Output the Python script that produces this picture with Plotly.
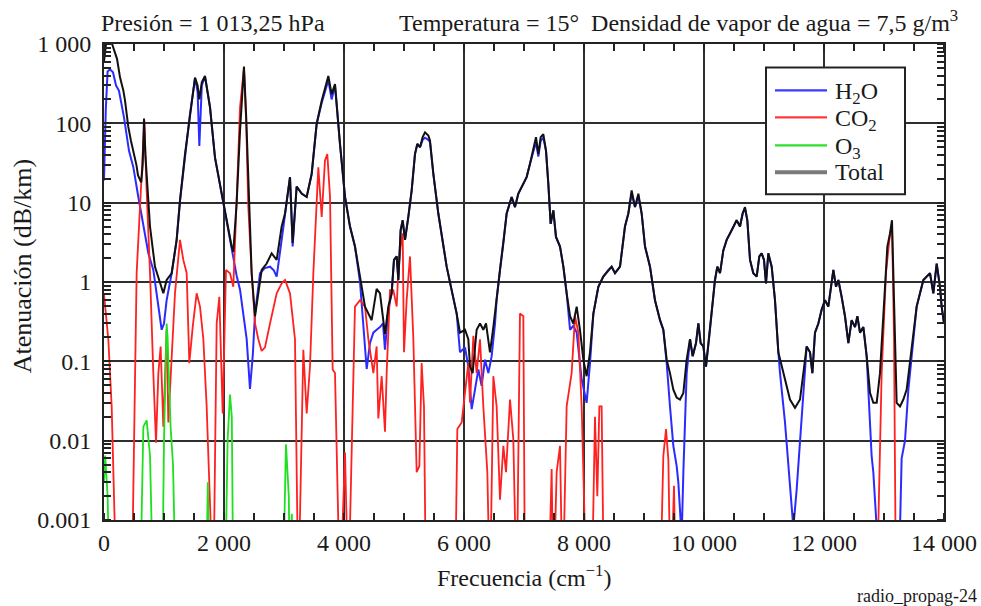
import plotly.graph_objects as go

# ---------------- data ----------------
total_freq = [0, 40, 100, 160, 217, 267, 322, 350, 405, 450, 489, 540, 567, 620, 645, 667, 690, 711, 767, 850,
              933, 989, 1044, 1128, 1211, 1267, 1350, 1433, 1517, 1560, 1589, 1630, 1683, 1767, 1850, 1933, 2044,
              2128, 2155, 2211, 2267, 2300, 2333, 2370, 2405, 2461, 2517, 2572, 2628, 2711, 2794, 2878, 2961,
              3017, 3100, 3144, 3211, 3294, 3378, 3461, 3544, 3628, 3700, 3739, 3794, 3850, 3933, 4017, 4100,
              4183, 4267, 4350, 4461, 4544, 4600, 4683, 4739, 4794, 4833, 4878, 4906, 4944, 4978, 5017, 5072,
              5128, 5183, 5222, 5267, 5311, 5350, 5406, 5433, 5489, 5572, 5628, 5711, 5794, 5878, 5933, 6017,
              6072, 6100, 6144, 6211, 6267, 6322, 6367, 6406, 6433, 6489, 6544, 6600, 6656, 6711, 6794, 6850,
              6906, 6989, 7044, 7100, 7156, 7200, 7239, 7278, 7322, 7367, 7406, 7444, 7489, 7533, 7600, 7656,
              7711, 7767, 7822, 7878, 7933, 7989, 8044, 8100, 8156, 8239, 8322, 8406, 8461, 8517, 8600, 8683,
              8739, 8794, 8850, 8906, 8961, 9017, 9100, 9183, 9267, 9322, 9378, 9433, 9489, 9544, 9600, 9656,
              9711, 9767, 9811, 9867, 9906, 9944, 9989, 10033, 10089, 10144, 10183, 10222, 10267, 10322, 10378,
              10461, 10544, 10600, 10644, 10683, 10722, 10767, 10822, 10878, 10922, 10961, 11000, 11033, 11072,
              11128, 11183, 11239, 11294, 11350, 11433, 11517, 11600, 11656, 11711, 11767, 11806, 11850, 11906,
              11961, 12017, 12072, 12111, 12156, 12200, 12239, 12294, 12350, 12406, 12461, 12517, 12556, 12600,
              12656, 12711, 12767, 12822, 12878, 12933, 12989, 13056, 13100, 13133, 13167, 13211, 13267, 13322,
              13378, 13433, 13489, 13544, 13600, 13656, 13711, 13767, 13822, 13878, 13933, 13961, 14000]
total_val = [600, 1100, 1200, 900, 650, 380, 260, 195, 90, 60, 46, 30, 22, 18, 30, 115, 40, 23, 5.0, 1.55,
             0.96, 0.72, 1.06, 1.29, 3.4, 10.7, 41, 131, 378, 300, 200, 330, 396, 159, 37, 17, 6.0,
             2.8, 2.4, 10, 80, 250, 520, 120, 23, 1.29, 0.37, 0.72, 1.42, 1.71, 2.3, 1.9, 5.0,
             7.3, 21, 3.1, 16, 13, 11.8, 23, 98, 193, 312, 396, 233, 312, 55, 11.8, 5.0,
             2.8, 1.17, 0.49, 0.33, 0.82, 0.72, 0.22, 0.49, 0.72, 1.9, 2.1, 1.06, 4.5, 6.0, 3.4, 6.6,
             14.3, 41, 55, 50, 67, 77, 70, 61, 23, 7.3, 3.7, 1.56, 0.79, 0.40, 0.23, 0.25,
             0.19, 0.086, 0.071, 0.25, 0.30, 0.25, 0.30, 0.19, 0.13, 0.27, 0.65, 1.42, 3.1, 7.3, 11.8, 8.8,
             13, 17, 21, 31, 50, 67, 41, 67, 73, 45, 17, 5.4, 8.0, 3.7, 2.8, 1.56,
             0.72, 0.37, 0.30, 0.49, 0.25, 0.105, 0.065, 0.13, 0.40, 0.87, 1.17, 1.42, 1.56, 1.29, 1.56, 5.0,
             7.3, 14.3, 8.8, 13, 7.3, 2.8, 1.56, 0.59, 0.33, 0.25, 0.105, 0.071, 0.044, 0.035, 0.033, 0.040,
             0.105, 0.19, 0.116, 0.17, 0.30, 0.17, 0.154, 0.086, 0.21, 0.59, 1.06, 1.56, 1.29, 2.5, 3.4,
             4.5, 6.0, 5.0, 7.3, 8.8, 6.0, 1.9, 1.29, 1.17, 2.1, 2.3, 1.9, 0.96, 2.3,
             1.56, 0.59, 0.13, 0.086, 0.059, 0.033, 0.026, 0.033, 0.071, 0.154, 0.13, 0.071, 0.23, 0.30,
             0.45, 0.59, 0.49, 0.87, 1.42, 0.87, 1.06, 0.65, 0.37, 0.17, 0.33, 0.27, 0.37, 0.23,
             0.27, 0.116, 0.040, 0.030, 0.030, 0.071, 0.40, 2.8, 4.1, 6.0, 0.59, 0.030, 0.027, 0.033,
             0.044, 0.095, 0.23, 0.49, 0.72, 1.06, 1.17, 1.29, 0.72, 1.71, 0.87, 0.49, 0.30]

h2o_freq = [0, 30, 60, 100, 150, 200, 250, 333, 417, 489, 572, 656, 739, 822, 906, 961, 1000, 1044, 1128, 1211,
            1267, 1350, 1433, 1517, 1560, 1589, 1630, 1683, 1767, 1850, 1933, 2044, 2128, 2155, 2211, 2267,
            2320, 2378, 2433, 2480, 2517, 2560, 2600, 2680, 2767, 2830, 2878, 2961, 3017, 3100, 3144, 3211,
            3294, 3378, 3461, 3544, 3628, 3700, 3739, 3794, 3850, 3933, 4017, 4100, 4183, 4267, 4320, 4378,
            4433, 4489, 4544, 4600, 4650, 4683, 4739, 4794, 4833, 4878, 4906, 4944, 4978, 5017, 5072, 5128,
            5183, 5222, 5267, 5311, 5350, 5406, 5433, 5489, 5572, 5628, 5711, 5794, 5878, 5933, 6017, 6072,
            6128, 6183, 6239, 6294, 6350, 6406, 6461, 6517, 6544, 6600, 6656, 6711, 6794, 6850, 6906, 6989,
            7044, 7100, 7156, 7200, 7239, 7278, 7322, 7367, 7406, 7444, 7489, 7533, 7600, 7656, 7711, 7767,
            7822, 7878, 7961, 8044, 8100, 8156, 8239, 8322, 8406, 8461, 8517, 8600, 8683, 8739, 8794, 8850,
            8906, 8961, 9017, 9100, 9183, 9267, 9322, 9378, 9433, 9489, 9544, 9572, 9628, 9656, 9711, 9767,
            9811, 9867, 9906, 9944, 9989, 10033, 10089, 10144, 10183, 10222, 10267, 10322, 10378, 10461,
            10544, 10600, 10644, 10683, 10722, 10767, 10822, 10878, 10922, 10961, 11000, 11033, 11072, 11128,
            11183, 11239, 11267, 11350, 11433, 11489, 11544, 11600, 11656, 11711, 11767, 11806, 11850, 11906,
            11961, 12017, 12072, 12111, 12156, 12200, 12239, 12294, 12350, 12406, 12461, 12517, 12556, 12600,
            12656, 12711, 12767, 12794, 12822, 12878, 13050, 13267, 13294, 13350, 13406, 13461, 13489, 13544,
            13600, 13656, 13711, 13767, 13822, 13878, 13933, 13961, 14000]
h2o_val = [19, 150, 450, 480, 440, 300, 257, 119, 45, 28, 11.8, 5.0, 2.3, 1.42, 0.49, 0.25, 0.3, 0.59, 1.29, 3.4,
           10.7, 41, 131, 370, 250, 52, 300, 390, 159, 37, 17, 6.0, 2.8, 2.2, 1.2, 0.8,
           0.4, 0.19, 0.045, 0.12, 0.40, 0.8, 1.29, 1.5, 1.56, 1.4, 1.17, 3.4, 7.3, 21, 2.8, 16,
           13, 11.8, 23, 98, 180, 280, 350, 200, 300, 55, 11.8, 5.0, 2.8, 1.0, 0.3, 0.08,
           0.17, 0.23, 0.25, 0.27, 0.3, 0.14, 0.45, 0.72, 1.9, 2.1, 1.06, 4.5, 6.0, 3.4, 6.6, 14.3,
           41, 55, 50, 62, 66, 62, 58, 23, 7.3, 3.7, 1.56, 0.79, 0.40, 0.13, 0.15, 0.086,
           0.025, 0.044, 0.079, 0.049, 0.105, 0.071, 0.116, 0.30, 0.6, 1.42, 3.1, 7.3, 11.8, 8.8, 13, 17,
           21, 31, 46, 58, 38, 60, 66, 45, 17, 5.4, 8.0, 3.7, 2.8, 1.56, 0.72, 0.25,
           0.28, 0.23, 0.059, 0.030, 0.095, 0.40, 0.87, 1.17, 1.42, 1.56, 1.29, 1.56, 5.0, 7.3, 13, 8.8,
           12, 7.3, 2.8, 1.56, 0.59, 0.33, 0.25, 0.095, 0.027, 0.0086, 0.0048, 0.003, 0.0006, 0.004, 0.071, 0.19,
           0.116, 0.17, 0.30, 0.17, 0.154, 0.086, 0.21, 0.59, 1.06, 1.56, 1.29, 2.5, 3.4, 4.5,
           6.0, 5.0, 7.3, 8.5, 6.0, 1.9, 1.29, 1.17, 2.1, 2.3, 1.9, 0.96, 2.3, 1.56,
           0.59, 0.13, 0.071, 0.017, 0.003, 0.0008, 0.0024, 0.01, 0.044, 0.154, 0.13, 0.071, 0.23, 0.30,
           0.45, 0.59, 0.49, 0.87, 1.42, 0.87, 1.06, 0.65, 0.37, 0.17, 0.33, 0.27, 0.37, 0.23,
           0.27, 0.116, 0.017, 0.0064, 0.004, 0.0008, 0.0003, 0.0008, 0.006, 0.010, 0.044, 0.116, 0.23, 0.49,
           0.72, 1.06, 1.17, 1.29, 0.72, 1.71, 0.87, 0.49, 0.30]

co2_freq = [0, 72, 128, 211, 461, 544, 628, 672, 711, 767, 822, 867, 906, 944, 989, 1044, 1072, 1128, 1183,
            1267, 1322, 1378, 1422, 1478, 1544, 1600, 1656, 1711, 1767, 1822, 1878, 1922, 1978, 2033, 2100,
            2155, 2211, 2267, 2333, 2370, 2405, 2461, 2517, 2572, 2628, 2683, 2767, 2822, 2878, 2961, 3017,
            3100, 3183, 3239, 3322, 3378, 3433, 3489, 3572, 3628, 3683, 3722, 3767, 3811, 3850, 3933, 4017,
            4072, 4183, 4267, 4350, 4406, 4489, 4544, 4572, 4628, 4683, 4711, 4767, 4822, 4878, 4906, 4944,
            4978, 5000, 5044, 5100, 5156, 5211, 5256, 5294, 5333, 5367, 5850, 5889, 5961, 6017, 6072, 6100,
            6156, 6211, 6267, 6322, 6389, 6433, 6489, 6544, 6600, 6656, 6700, 6767, 6822, 6878, 6933, 6989,
            7017, 7406, 7461, 7489, 7544, 7600, 7644, 7711, 7794, 7850, 7906, 7961, 8044, 8128, 8183, 8222,
            8256, 8294, 8333, 9267, 9322, 9367, 9406, 9444, 9500, 9533, 12878, 12961, 13033, 13089, 13133,
            13167, 13200, 14000]
co2_val = [0.7, 0.19, 0.027, 1e-4, 1e-4, 1.29, 23, 108, 14, 1.29, 0.071, 0.0094, 0.071, 0.154, 0.015, 0.25,
           0.017, 0.116, 0.72, 3.4, 1.9, 1.29, 0.095, 0.27, 0.72, 0.49, 0.19, 0.027, 0.0024, 1e-4, 0.30, 0.65,
           0.022, 1.42, 1.29, 0.87, 10.7, 159, 500, 100, 8.8, 1.29, 0.30, 0.19, 0.135, 0.15, 0.30, 0.45, 0.72,
           0.96, 1.06, 0.72, 0.19, 1e-4, 0.14, 0.022, 0.086, 1.29, 28, 6.6, 34, 41, 11.8, 0.079, 0.071, 1e-4,
           0.0071, 1e-4, 0.49, 0.59, 0.49, 0.19, 0.071, 0.154, 0.019, 0.065, 0.013, 0.071, 0.79, 0.79, 0.49,
           1.42, 2.8, 4.1, 0.13, 0.59, 2.1, 0.19, 0.004, 0.0048, 0.095, 0.027, 1e-4, 1e-4, 0.014, 0.017, 0.044,
           0.095, 0.030, 0.21, 0.071, 0.19, 0.027, 0.004, 1e-4, 0.065, 0.027, 0.0018, 0.0086, 0.004, 0.033,
           0.0104, 1e-4, 0.40, 0.37, 1e-4, 1e-4, 0.0044, 1e-4, 0.004, 0.0086, 1e-4, 0.027, 0.071, 0.37, 0.23,
           0.027, 1e-4, 1e-4, 0.020, 0.002, 0.027, 0.027, 1e-4, 1e-4, 0.0064, 0.014, 0.0058, 1e-4, 0.0027,
           1e-4, 1e-4, 0.071, 1.29, 3.4, 5.5, 0.19, 1e-4, 1e-4]

o3_freq = [0, 20, 60, 100, 600, 656, 711, 767, 822, 970, 1000, 1030, 1044, 1060, 1090, 1110, 1150, 1200,
           1700, 1730, 1760, 2017, 2060, 2100, 2130, 2156, 2980, 3033, 3080, 3100, 3130, 3160]
o3_val = [0.003, 0.0065, 0.002, 1e-4, 1e-4, 0.015, 0.018, 0.0064, 1e-4, 1e-4, 0.01, 0.2, 0.3, 0.2, 0.05,
          0.015, 0.005, 1e-4, 1e-4, 0.003, 1e-4, 1e-4, 0.01, 0.038, 0.02, 1e-4, 1e-4, 0.009, 0.002, 1e-4,
          0.0012, 1e-4]

x_ticks = [0, 2000, 4000, 6000, 8000, 10000, 12000, 14000]
x_ticklabels = ["0", "2 000", "4 000", "6 000", "8 000", "10 000", "12 000", "14 000"]
y_ticks = [0.001, 0.01, 0.1, 1, 10, 100, 1000]
y_ticklabels = ["0.001", "0.01", "0.1", "1", "10", "100", "1 000"]

legend_names = ["H<sub>2</sub>O", "CO<sub>2</sub>", "O<sub>3</sub>", "Total"]
legend_colors = ["#3a3aff", "#ff3a3a", "#2ee02e", "#7a7a7a"]
legend_widths = [2.2, 2.2, 2.2, 4]

# ---------------- figure ----------------
FONT = "Liberation Serif, Times New Roman, serif"
TXT = "#1a1a1a"
GRID = "#2e2e2e"
FS = 24

# plot area in px (for converting layout positions into paper fractions)
L, R, T, B = 104, 944, 43.5, 520
def px(xp):
    return (xp - L) / (R - L)
def py(yp):
    return 1 - (yp - T) / (B - T)

fig = go.Figure()
fig.add_trace(go.Scatter(x=h2o_freq, y=h2o_val, mode="lines", name="H2O",
                         line=dict(color="#2b2bff", width=2)))
fig.add_trace(go.Scatter(x=co2_freq, y=co2_val, mode="lines", name="CO2",
                         line=dict(color="#ff2020", width=1.8)))
fig.add_trace(go.Scatter(x=o3_freq, y=o3_val, mode="lines", name="O3",
                         line=dict(color="#1ee01e", width=1.8)))
fig.add_trace(go.Scatter(x=total_freq, y=total_val, mode="lines", name="Total",
                         line=dict(color="#111111", width=2)))

fig.update_layout(
    width=981, height=606, autosize=False,
    margin=dict(l=L, r=981 - R, t=T, b=606 - B, pad=0, autoexpand=False),
    plot_bgcolor="white", paper_bgcolor="white",
    font=dict(family=FONT, size=FS, color=TXT),
    showlegend=False,
)
fig.update_xaxes(
    range=[0, 14000], tickvals=x_ticks, ticktext=x_ticklabels, automargin=False,
    showgrid=True, gridcolor=GRID, gridwidth=2, zeroline=False,
    showline=True, linecolor="#222", linewidth=2, mirror="allticks",
    ticks="", tickfont=dict(size=FS),
    minor=dict(dtick=500, ticks="inside", ticklen=7, tickcolor="#222", tickwidth=2, showgrid=False),
)
fig.update_yaxes(
    type="log", range=[-3, 3], tickvals=y_ticks, ticktext=y_ticklabels, automargin=False,
    showgrid=True, gridcolor=GRID, gridwidth=2, zeroline=False,
    showline=True, linecolor="#222", linewidth=2, mirror="allticks",
    ticks="", tickfont=dict(size=FS), ticklabelstandoff=6,
    minor=dict(dtick="D1", ticks="inside", ticklen=7, tickcolor="#222", tickwidth=1.5, showgrid=False),
)

# legend box (drawn as layout decoration)
fig.add_shape(type="rect", xref="paper", yref="paper", x0=px(766), x1=px(905), y0=py(194), y1=py(67),
              fillcolor="white", line=dict(color="#222", width=2), layer="above")
rows = [90, 117, 145, 172]
for name, col, w, ry in zip(legend_names, legend_colors, legend_widths, rows):
    fig.add_shape(type="line", xref="paper", yref="paper", x0=px(775), x1=px(827), y0=py(ry), y1=py(ry),
                  line=dict(color=col, width=w), layer="above")
    fig.add_annotation(text=name, xref="paper", yref="paper", x=px(833), y=py(ry + (3 if "sub" in name else 0)),
                       xanchor="left", yanchor="middle", showarrow=False, font=dict(size=FS))

fig.add_annotation(text="Presión = 1 013,25 hPa", xref="paper", yref="paper",
                   x=px(99), y=py(22), xanchor="left", yanchor="middle", showarrow=False,
                   font=dict(size=FS))
fig.add_annotation(text="Temperatura = 15°  Densidad de vapor de agua = 7,5 g/m<sup>3</sup>",
                   xref="paper", yref="paper", x=px(397), y=py(20), xanchor="left", yanchor="middle",
                   showarrow=False, font=dict(size=FS))
fig.add_annotation(text="Frecuencia (cm<sup>−1</sup>)", xref="paper", yref="paper",
                   x=px(524), y=py(576), xanchor="center", yanchor="middle", showarrow=False,
                   font=dict(size=FS))
fig.add_annotation(text="Atenuación (dB/km)", xref="paper", yref="paper", textangle=-90,
                   x=px(22), y=py(266), xanchor="center", yanchor="middle", showarrow=False,
                   font=dict(size=26))
fig.add_annotation(text="radio_propag-24", xref="paper", yref="paper",
                   x=px(979), y=py(596), xanchor="right", yanchor="middle", showarrow=False,
                   font=dict(size=18))

fig.write_html("out.html", config={"displayModeBar": False, "responsive": False},
               post_script="document.body.style.margin='0px';")
